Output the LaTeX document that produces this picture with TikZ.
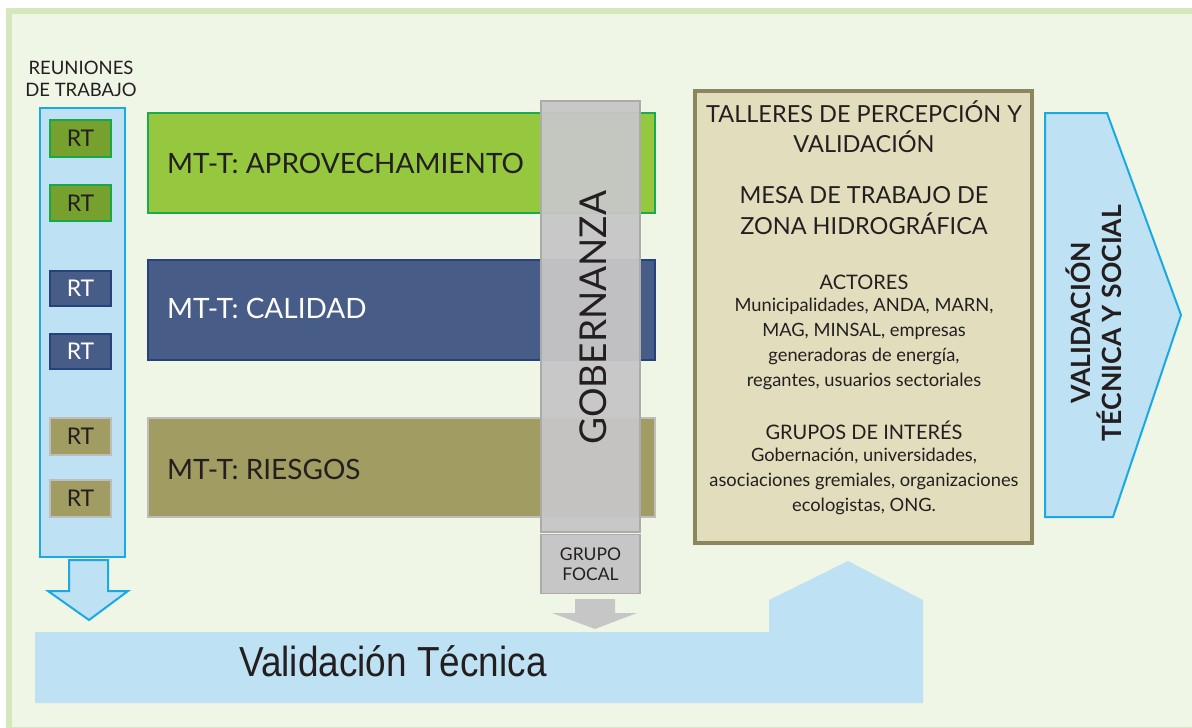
\documentclass[tikz,border=0pt]{standalone}
\usepackage{fontspec}
\setmainfont{Lato}
\newfontfamily\narrowfont{Liberation Sans}
\definecolor{frameg}{HTML}{D5E7BD}
\definecolor{bgin}{HTML}{EFF6E6}
\definecolor{lblue}{HTML}{BEE2F3}
\definecolor{cyanl}{HTML}{1AA9E1}
\definecolor{rtgreen}{HTML}{76A12F}
\definecolor{rtgreenb}{HTML}{18A84C}
\definecolor{bargreen}{HTML}{95C83E}
\definecolor{bargreenb}{HTML}{1AAB50}
\definecolor{barblue}{HTML}{485C88}
\definecolor{barblueb}{HTML}{27427A}
\definecolor{olive}{HTML}{A09C62}
\definecolor{oliveb}{HTML}{BDBDBD}
\definecolor{grayf}{HTML}{C7C6C7}
\definecolor{grayb}{HTML}{ABABAB}
\definecolor{tanf}{HTML}{E2DDBD}
\definecolor{tanb}{HTML}{8B8560}
\definecolor{ink}{HTML}{231F20}
\newcommand{\fs}[1]{\fontsize{#1}{#1}\selectfont}
\begin{document}
\begin{tikzpicture}[x=1pt,y=-1pt,
  every node/.style={inner sep=0pt, outer sep=0pt, text=ink},
  rtbox/.style={line width=2pt, minimum width=61pt, minimum height=#1, font=\fs{23}},
  bar/.style={line width=2pt, minimum width=507pt, minimum height=#1},
  bartext/.style={anchor=west, font=\fs{28}},
  tantitle/.style={font=\fs{23.5}, align=center},
  tanhead/.style={font=\fs{20}, align=center},
  tanbody/.style={font=\fs{18.3}, align=center}
]
\useasboundingbox (0,0) rectangle (1192,728);
\fill[white] (0,0) rectangle (1192,728);
\fill[frameg] (6,8) rectangle (1192,728);
\fill[bgin] (12,14) rectangle (1192,727);

% bottom validation shape
\fill[lblue] (35,632) -- (769,632) -- (769,600) -- (848,561) -- (923,600) -- (923,703) -- (35,703) -- cycle;
\node[font=\narrowfont\fs{42}, xscale=0.88] (vt) at (393,661) {Validación Técnica};

% reuniones column
\node[font=\fs{18.5}, align=center] (reu) at (81,79) {REUNIONES\\[3pt]DE TRABAJO};
\node[draw=cyanl, fill=lblue, line width=2pt, minimum width=85pt, minimum height=449pt] (col) at (82.5,332.5) {};
\node[rtbox=37pt, draw=rtgreenb, fill=rtgreen] (rt1) at (80.5,138.5) {RT};
\node[rtbox=36pt, draw=rtgreenb, fill=rtgreen] (rt2) at (80.5,203) {RT};
\node[rtbox=35pt, draw=barblueb, fill=barblue, text=white] (rt3) at (80.5,288.5) {RT};
\node[rtbox=35pt, draw=barblueb, fill=barblue, text=white] (rt4) at (80.5,351.5) {RT};
\node[rtbox=37pt, draw=oliveb, fill=olive] (rt5) at (80.5,436.5) {RT};
\node[rtbox=37pt, draw=oliveb, fill=olive] (rt6) at (80.5,498.5) {RT};
\draw[cyanl, fill=lblue, line width=2pt] (69,560) -- (108,560) -- (108,591) -- (128,591) -- (89,620) -- (48,591) -- (69,591) -- cycle;

% MT-T bars
\node[bar=100pt, draw=bargreenb, fill=bargreen] (b1) at (401.5,163) {};
\node[bar=100pt, draw=barblueb, fill=barblue] (b2) at (401.5,310) {};
\node[bar=99pt, draw=oliveb, fill=olive] (b3) at (401.5,467.5) {};
\node[bartext] (t1) at (167,163) {MT-T:\ APROVECHAMIENTO};
\node[bartext, text=white] (t2) at (167,308) {MT-T: CALIDAD};
\node[bartext] (t3) at (167,469) {MT-T: RIESGOS};

% gobernanza
\node[draw=grayb, fill=grayf, fill opacity=0.95, line width=1.5pt, minimum width=99pt, minimum height=431pt] (gob) at (590.5,316.5) {};
\node[rotate=90, font=\fs{37}] (gobt) at (593,318) {GOBERNANZA};
\node[draw=grayb, fill=grayf, line width=1.5pt, minimum width=99pt, minimum height=59pt, font=\fs{17.5}, align=center] (gf) at (590.5,564) {GRUPO\\[3pt]FOCAL};
\fill[grayf] (575,599) -- (615,599) -- (615,613) -- (637,613) -- (595,629) -- (552,613) -- (575,613) -- cycle;

% tan box
\node[draw=tanb, fill=tanf, line width=4pt, minimum width=337pt, minimum height=452pt] (tan) at (863.5,317) {};
\node[tantitle] (tl1) at (864,112) {TALLERES DE PERCEPCIÓN Y};
\node[tantitle] (tl2) at (864,142) {VALIDACIÓN};
\node[tantitle] (tl3) at (864,195) {MESA DE TRABAJO DE};
\node[tantitle] (tl4) at (864,224) {ZONA HIDROGRÁFICA};
\node[tanhead] (ac) at (864,282) {ACTORES};
\node[tanbody] (a1) at (864,306) {Municipalidades, ANDA, MARN,};
\node[tanbody] (a2) at (864,331) {MAG, MINSAL, empresas};
\node[tanbody] (a3) at (864,356) {generadoras de energía,};
\node[tanbody] (a4) at (864,381) {regantes, usuarios sectoriales};
\node[tanhead] (gi) at (864,430) {GRUPOS DE INTERÉS};
\node[tanbody] (g1) at (864,456) {Gobernación, universidades,};
\node[tanbody] (g2) at (864,481) {asociaciones gremiales, organizaciones};
\node[tanbody] (g3) at (864,506) {ecologistas, ONG.};

% right arrow
\draw[cyanl, fill=lblue, line width=2pt] (1045,113) -- (1107,113) -- (1181,315) -- (1113,517) -- (1045,517) -- cycle;
\node[rotate=90, font=\bfseries\fs{26.5}, align=center] (vts) at (1094,323) {VALIDACIÓN\\[4pt]TÉCNICA Y SOCIAL};
\end{tikzpicture}
\end{document}
